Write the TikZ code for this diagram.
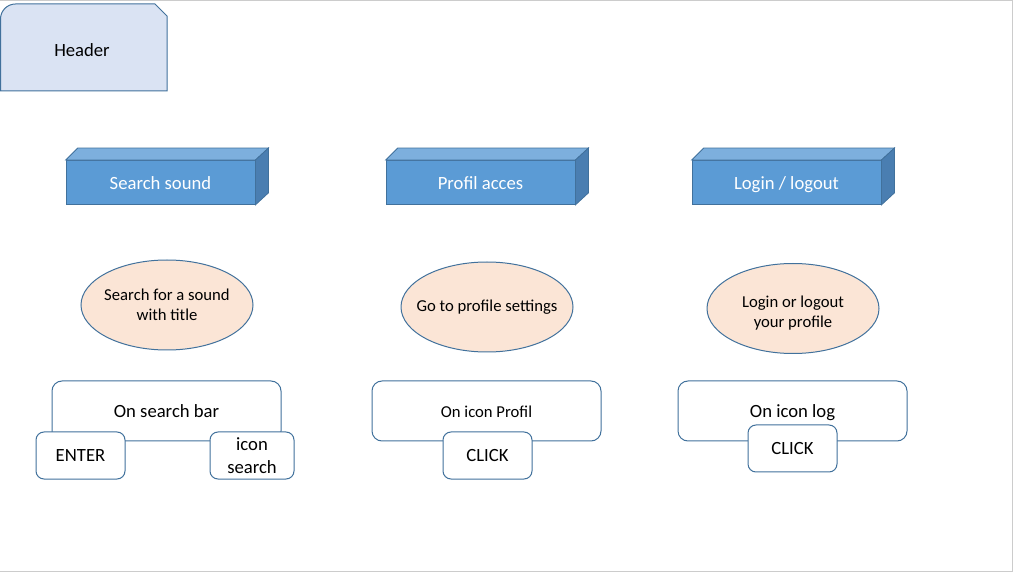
\documentclass[tikz,border=0pt]{standalone}
\usepackage{fontspec}
\setmainfont{Carlito}
\usepackage{tikz}
\usetikzlibrary{calc,shapes.geometric}
\definecolor{edgeblue}{HTML}{41719C}
\definecolor{headfill}{HTML}{DAE3F3}
\definecolor{cubefront}{HTML}{5B9BD5}
\definecolor{cubetop}{HTML}{7DAFDD}
\definecolor{cubeside}{HTML}{4A7EB1}
\definecolor{ovalfill}{HTML}{FBE5D6}
\tikzset{
  cube/.style={fill=cubefront, draw=edgeblue, line width=0.6pt, text=white,
    minimum width=141.75pt, minimum height=33pt, inner sep=0pt,
    text height=1.25em, text depth=0.2em, font=\fontsize{14}{16}\selectfont},
  oval/.style={draw=edgeblue, fill=ovalfill, ellipse, line width=0.75pt,
    minimum width=129pt, minimum height=67.5pt, inner sep=0pt},
  ovaltext/.style={align=center, inner sep=0pt, font=\fontsize{12.5}{15}\selectfont},
  action/.style={draw=edgeblue, fill=white, rounded corners=7.5pt, line width=0.75pt,
    minimum width=171.75pt, minimum height=45pt, inner sep=0pt,
    text height=1.2em, text depth=0.2em, font=\fontsize{14}{16}\selectfont},
  trigger/.style={draw=edgeblue, fill=white, rounded corners=6pt, line width=0.75pt,
    minimum width=66.75pt, minimum height=35.25pt, inner sep=0pt, align=center,
    font=\fontsize{14}{17}\selectfont}
}

\begin{document}
\begin{tikzpicture}[x=0.75pt, y=-0.75pt]
            \useasboundingbox (0,0) rectangle (1014,573);
            \draw[gray!40, line width=1pt] (0,0.5) -- (1012.5,0.5) -- (1012.5,571.5) -- (0,571.5);

            % header
            \draw[draw=edgeblue, fill=headfill, line width=0.75pt]
                (0.5,91) -- (0.5,19) arc[start angle=180, end angle=270, radius=15] -- (155,4) -- (167,16) -- (167,91) -- cycle;
            \node [font=\fontsize{14}{16}\selectfont] (H) at (82,50) {Header};

            % main blocks
            \node [cube] (S) at (160.5,182.5) {Search sound};
            \node [cube] (P) at (480.5,182.5) {Profil acces};
            \node [cube] (L) at (786.5,182.5) {Login / logout};
            \foreach \c in {S,P,L} {
                \draw[draw=edgeblue, fill=cubetop, line width=0.6pt]
                    (\c.north west) -- ++(12,-12) -- ($(\c.north east)+(13,-12)$) -- (\c.north east) -- cycle;
                \draw[draw=edgeblue, fill=cubeside, line width=0.6pt]
                    (\c.north east) -- ++(13,-12) -- ($(\c.south east)+(13,-12)$) -- (\c.south east) -- cycle;
            }

            % descriptions
            \node [oval] (O1) at (167,305) {};
            \node [oval] (O2) at (487,307) {};
            \node [oval] (O3) at (793,308.5) {};
            \node [ovaltext] (D1) at (O1) {Search for a sound\\with title};
            \node [ovaltext] (D2) at (O2) {Go to profile settings};
            \node [ovaltext, yshift=-3.75pt] (D3) at (O3) {Login or logout\\your profile};

            % actions
            \node [action] (A1) at (166.5,411) {On search bar};
            \node [action, font=\fontsize{12.5}{15}\selectfont] (A2) at (486.5,411) {On icon Profil};
            \node [action] (A3) at (792.5,411) {On icon log};

            \node [trigger] (E) at (80.5,455.5) {ENTER};
            \node [trigger, minimum width=63pt] (I) at (252,455.5) {icon\\search};
            \node [trigger] (C1) at (487.5,455.5) {CLICK};
            \node [trigger] (C2) at (792.5,448.5) {CLICK};
        \end{tikzpicture}
\end{document}
